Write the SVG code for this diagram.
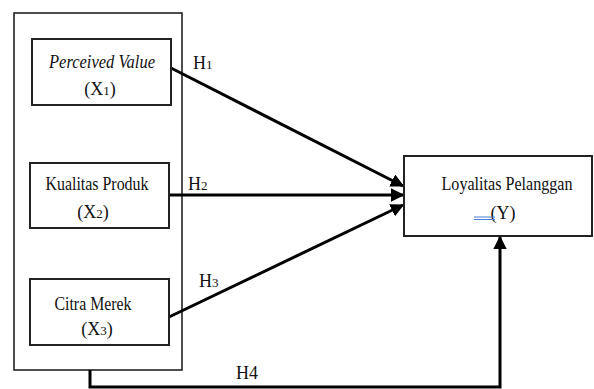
<svg xmlns="http://www.w3.org/2000/svg" width="594" height="389" viewBox="0 0 594 389">
<style>
.box{fill:#fff;stroke:#222;stroke-width:2}
.outer{fill:none;stroke:#222;stroke-width:1.6}
text{font-family:'Liberation Serif','Times New Roman',serif;fill:#111}
.t{font-size:18px;text-anchor:middle}
.h{font-size:18px}
.c{stroke:#000;stroke-width:3;fill:none}
.s{font-size:13px}
</style>
<defs>
<marker id="ah" viewBox="0 0 10 10" refX="9" refY="5" markerWidth="4.5" markerHeight="4.5" orient="auto" markerUnits="strokeWidth">
<path d="M0,0 L10,5 L0,10 Z" fill="#000"/>
</marker>
</defs>
<rect x="0" y="0" width="594" height="389" fill="#fff"/>
<g id="outer"><rect class="outer" x="14" y="13" width="168" height="357"/></g>
<g id="connectors">
<line class="c" x1="171" y1="68" x2="403" y2="186" marker-end="url(#ah)"/>
<line class="c" x1="169" y1="195" x2="403" y2="195" marker-end="url(#ah)"/>
<line class="c" x1="169" y1="317" x2="403" y2="205" marker-end="url(#ah)"/>
<polyline class="c" points="90,370 90,387 500,387 500,237" marker-end="url(#ah)"/>
</g>
<g id="x1"><rect class="box" x="32" y="39" width="139" height="66"/>
<text class="t" x="102" y="68" font-style="italic" textLength="106" lengthAdjust="spacingAndGlyphs">Perceived Value</text>
<text class="t" x="100" y="95">(X<tspan class="s">1</tspan>)</text></g>
<g id="x2"><rect class="box" x="30" y="163" width="139" height="65"/>
<text class="t" x="97" y="190" textLength="103" lengthAdjust="spacingAndGlyphs">Kualitas Produk</text>
<text class="t" x="93" y="218">(X<tspan class="s">2</tspan>)</text></g>
<g id="x3"><rect class="box" x="30" y="279" width="139" height="66"/>
<text class="t" x="93" y="310" textLength="77" lengthAdjust="spacingAndGlyphs">Citra Merek</text>
<text class="t" x="97" y="335">(X<tspan class="s">3</tspan>)</text></g>
<g id="y"><rect class="box" x="404" y="156" width="188" height="80"/>
<text class="t" x="507" y="190" textLength="131" lengthAdjust="spacingAndGlyphs">Loyalitas Pelanggan</text>
<text class="t" x="503" y="219">(Y)</text>
<line x1="474" y1="217" x2="495" y2="217" stroke="#4a7fd6" stroke-width="1"/>
<line x1="474" y1="219.5" x2="495" y2="219.5" stroke="#4a7fd6" stroke-width="1"/></g>
<g id="labels">
<text class="h" x="193" y="69">H<tspan class="s">1</tspan></text>
<text class="h" x="188" y="190">H<tspan class="s">2</tspan></text>
<text class="h" x="199" y="287">H<tspan class="s">3</tspan></text>
<text class="h" x="236" y="379">H4</text>
</g>
</svg>
